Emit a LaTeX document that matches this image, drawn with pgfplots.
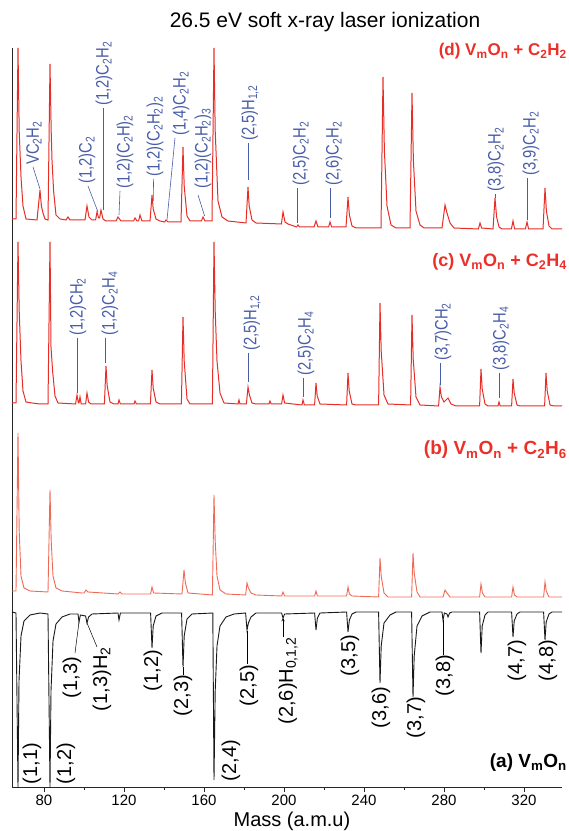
\documentclass[border=0pt]{standalone}
\usepackage{fontspec}
\setmainfont{Liberation Sans}
\usepackage{graphicx}
\usepackage{pgfplots}
\pgfplotsset{compat=1.18}
\definecolor{dred}{RGB}{232,45,38}
\definecolor{bred}{RGB}{240,105,85}
\definecolor{lblue}{RGB}{72,92,168}
\definecolor{lred}{RGB}{236,48,40}
\newcommand{\s}[1]{\textsubscript{#1}}
\newcommand{\dt}[1]{\scalebox{0.82}[1]{#1}}
\tikzset{
 dl/.style={rotate=90, anchor=west, inner sep=0pt, text=lblue, font=\fontsize{18bp}{21bp}\selectfont},
 al/.style={rotate=90, anchor=east, inner sep=0pt, text=black, font=\fontsize{20bp}{23bp}\selectfont},
 ld/.style={lblue, line width=0.6bp},
 lk/.style={black, line width=0.5bp},
}
\begin{document}
\begin{tikzpicture}
\begin{axis}[
 at={(0,0)}, anchor=south west,
 width=550bp, height=739bp, scale only axis,
 xmin=64, xmax=339, ymin=44, ymax=783,
 axis x line*=bottom, axis y line*=left,
 ytick=\empty,
 xtick={80,120,...,320}, minor x tick num=1,
 tick align=outside, major tick length=5bp, minor tick length=3bp,
 /pgf/number format/assume math mode=true,
 ticklabel style={font=\fontsize{15bp}{18bp}\selectfont},
 xlabel={Mass (a.m.u)},
 xlabel style={font=\fontsize{20bp}{24bp}\selectfont, at={(axis description cs:0.509,-0.0541)}, anchor=base},
 clip=false,
 axis line style={line width=0.8bp, black!85},
 every tick/.style={black!85, line width=0.6bp},
]
% (d) V_mO_n + C2H2
\addplot[dred, line width=1.0bp] coordinates {
(64,612) (66,612) (67,783) (67.6,700) (68.5,654) (69.5,625) (71,612) (76.5,611) (78,641) (78.7,625) (79.5,618) (80.5,612) (82,611) (83,767) (83.6,700) (84,671) (84.8,640) (86,616) (88,612) (91,611) (92,614) (93,611) (100.5,611) (101.5,625) (102.5,614) (104,611) (105.8,611) (106.5,619) (107.3,613) (107.8,613) (108.5,621) (109.5,612) (111,610) (116,610) (117,614) (118.5,610) (124.8,610) (125.5,613) (126.5,610) (127.3,610) (128,616) (129,610) (133,610) (134,636) (134.6,622) (136,612) (138,610) (140.3,609) (141,611) (142,609) (148.5,609) (149.5,684) (150.1,645) (151.5,615) (153,610) (158.7,610) (159.5,614) (160.5,610) (164,610) (165,783) (165.6,700) (167,630) (169,614) (172,610) (181,608) (182,644) (182.6,625) (184,611) (186,608) (198.7,607) (199.5,619) (200.5,609) (202,607) (206.3,604) (207,606) (207.8,604) (215,604) (216,610) (217,604) (222.3,604) (223,609) (223.8,604) (231,604) (232,634) (232.7,616) (234,605) (236,603) (248.5,603) (249.5,754) (250.2,680) (251.5,625) (253.5,606) (256,603) (263,603) (264,738) (264.7,670) (266,620) (268,606) (270,603) (279,603) (280.5,626) (281.5,618) (283,608) (285,603) (297.2,602) (298,608) (298.8,603) (304.5,602) (305.5,633) (306.3,614) (307.5,604) (309,602) (313.7,602) (314.5,610) (315.3,602) (320.7,602) (321.5,609) (322.3,602) (329.5,602) (330.5,643) (331.2,620) (332.5,605) (334,602) (339,602)
};
% (c) V_mO_n + C2H4
\addplot[dred, line width=1.0bp] coordinates {
(64,428) (66,428) (67,589) (67.6,520) (68.5,470) (69.5,440) (71,429) (74,428) (78,427) (82,427) (83,589) (83.5,484) (84.3,460) (85.5,435) (87,428) (95.8,427) (96.5,436) (97.2,428) (97.5,428) (98,434) (98.6,427) (100.8,427) (101.5,438) (102.3,429) (103.5,427) (110.2,427) (111,465) (111.6,445) (113,429) (115,427) (117,427) (117.5,431) (118.2,427) (125,427) (125.5,430) (126.2,427) (133.2,427) (134,461) (134.6,443) (136,429) (138,427) (148.7,427) (149.5,514) (150.1,470) (151.5,432) (153,427) (164.2,427) (165,589) (165.6,520) (166.5,470) (168,438) (170,428) (177,427) (177.5,431) (178,427) (181.2,427) (182,444) (182.7,436) (184,428) (186,427) (192.5,427) (193,430) (193.6,427) (198.8,427) (199.5,436) (200.3,428) (209,426) (209.5,431) (210.2,426) (215.3,426) (216,448) (216.6,435) (218,427) (231.3,426) (232,458) (232.6,440) (234,427) (236,426) (247.3,426) (248,528) (248.6,480) (250,436) (252,427) (263.3,426) (264,516) (264.6,472) (266,434) (268,426) (277.3,425) (278,444) (278.7,434) (280,429) (282,433) (283.5,427) (286,425) (297.8,425) (298.5,462) (299.1,442) (300.5,427) (302,425) (307,425) (307.5,429) (308.1,425) (313.8,425) (314.5,452) (315.1,438) (316.5,426) (318,425) (330.3,425) (331,458) (331.6,440) (333,426) (335,425) (339,425)
};
% (b) V_mO_n + C2H6
\addplot[bred, line width=0.9bp] coordinates {
(64,240) (66,240) (67,398) (67.6,300) (68.5,255) (70,243) (73,240) (82,239) (83,341) (83.6,290) (84.5,255) (86,243) (89,240) (99,238) (100,238) (101,241) (102,239) (117,237) (118,239) (119,237) (133.3,237) (134,244) (134.8,238) (149,237) (150,261) (150.7,248) (152,238) (164.2,236) (165,336) (165.6,290) (166.5,255) (168,241) (171,237) (180.8,236) (181.5,248) (182.2,243) (183.5,238) (186,236) (198.8,235) (199.5,239) (200.3,235) (215.3,235) (216,240) (216.7,235) (231.3,235) (232,244) (232.7,237) (234,235) (247.3,234) (248,273) (248.6,255) (250,238) (252,234) (263.8,234) (264.5,278) (265.1,258) (266.5,239) (268,234) (279.5,234) (280.5,241) (281.5,238) (283,234) (297.8,234) (298.5,247) (299.2,238) (300.5,234) (313.8,234) (314.5,244) (315.2,236) (316.5,234) (329.8,234) (330.5,249) (331.1,240) (332.5,234) (339,234)
};
% (a) V_mO_n (inverted)
\addplot[black!90, line width=0.9bp] coordinates {
(64,219) (66,218) (67,44) (67.5,150) (68.5,195) (70,210) (73,216) (78,218) (82,217) (83,44) (83.5,140) (84.5,190) (86,207) (89,214) (93,217) (97,217) (97.5,209) (98.2,216) (100.8,215) (101.5,208) (102.3,214) (104,217) (117,218) (117.5,211) (118.2,218) (133.3,218) (134,183) (134.6,205) (136,215) (139,218) (148.8,218) (149.5,164) (150.1,195) (151.5,212) (154,217) (164.4,218) (165,51) (165.6,140) (166.5,185) (168,205) (171,214) (175,217) (180.8,218) (181.5,201) (182.2,208) (183.5,214) (186,218) (198.8,218) (199.5,213) (200.3,217) (215.3,218) (216,201) (216.7,213) (218,218) (231.3,219) (232,199) (232.7,211) (234,217) (236,219) (247.3,219) (248,148) (248.6,185) (250,208) (253,216) (256,219) (263.8,219) (264.5,134) (265.1,175) (266.5,205) (269,215) (273,219) (279,219) (279.5,211) (280.2,218) (281.5,217) (282,214) (282.8,218) (284,219) (297.8,219) (298.5,178) (299.1,205) (300.5,216) (302,219) (313.8,219) (314.5,194) (315.1,210) (316.5,217) (318,219) (329.8,219) (330.5,191) (331.1,209) (332.5,217) (334,219) (339,219)
};
% title and panel labels
\node[anchor=base, font=\fontsize{21bp}{25bp}\selectfont] at (axis cs:220.5,803) {26.5 eV soft x-ray laser ionization};
\node[anchor=base east, inner sep=0pt, text=lred, font=\bfseries\fontsize{17bp}{20bp}\selectfont] at (axis cs:341.5,775) {(d) V\s{m}O\s{n} + C\s{2}H\s{2}};
\node[anchor=base east, inner sep=0pt, text=lred, font=\bfseries\fontsize{18bp}{21bp}\selectfont] at (axis cs:341.5,564) {(c) V\s{m}O\s{n} + C\s{2}H\s{4}};
\node[anchor=base east, inner sep=0pt, text=lred, font=\bfseries\fontsize{19bp}{22bp}\selectfont] at (axis cs:341.5,376) {(b) V\s{m}O\s{n} + C\s{2}H\s{6}};
\node[anchor=base east, inner sep=0pt, text=black, font=\bfseries\fontsize{19bp}{22bp}\selectfont] at (axis cs:341.5,64) {(a) V\s{m}O\s{n}};
% (d) assignments
\node[dl] at (axis cs:75,666) {\dt{VC\s{2}H\s{2}}};
\draw[ld] (axis cs:74.5,664) -- (axis cs:78,642);
\node[dl] at (axis cs:101.5,647) {\dt{(1,2)C\s{2}}};
\draw[ld] (axis cs:102,645) -- (axis cs:107,619);
\node[dl] at (axis cs:110,725) {\dt{(1,2)C\s{2}H\s{2}}};
\draw[ld] (axis cs:109.5,723) -- (axis cs:109.5,621);
\node[dl] at (axis cs:120.5,642) {\dt{(1,2)(C\s{2}H)\s{2}}};
\draw[ld] (axis cs:118,640) -- (axis cs:117.5,616);
\node[dl] at (axis cs:135.5,654) {\dt{(1,2)(C\s{2}H\s{2})\s{2}}};
\draw[ld] (axis cs:134.8,652) -- (axis cs:134.6,630);
\node[dl] at (axis cs:148.5,695) {\dt{(1,4)C\s{2}H\s{2}}};
\draw[ld] (axis cs:145.5,693) -- (axis cs:141.5,611);
\node[dl] at (axis cs:159.5,642) {\dt{(1,2)(C\s{2}H\s{2})\s{3}}};
\draw[ld] (axis cs:157,636) -- (axis cs:160.3,615);
\node[dl] at (axis cs:183,690) {\dt{(2,5)H\s{1,2}}};
\draw[ld] (axis cs:182,688) -- (axis cs:182,651);
\node[dl] at (axis cs:208.5,645) {\dt{(2,5)C\s{2}H\s{2}}};
\draw[ld] (axis cs:206.8,643) -- (axis cs:206.8,608);
\node[dl] at (axis cs:225,645) {\dt{(2,6)C\s{2}H\s{2}}};
\draw[ld] (axis cs:223,643) -- (axis cs:223,613);
\node[dl] at (axis cs:306,639) {\dt{(3,8)C\s{2}H\s{2}}};
\draw[ld] (axis cs:305.5,637) -- (axis cs:305.5,633);
\node[dl] at (axis cs:323.5,655) {\dt{(3,9)C\s{2}H\s{2}}};
\draw[ld] (axis cs:321.5,653) -- (axis cs:321.5,611);
% (c) assignments
\node[dl] at (axis cs:97,495) {\dt{(1,2)CH\s{2}}};
\draw[ld] (axis cs:96.5,493) -- (axis cs:96.5,438);
\node[dl] at (axis cs:113,495) {\dt{(1,2)C\s{2}H\s{4}}};
\draw[ld] (axis cs:110.8,493) -- (axis cs:110.8,468);
\node[dl] at (axis cs:184,480) {\dt{(2,5)H\s{1,2}}};
\draw[ld] (axis cs:182,478) -- (axis cs:182,449);
\node[dl] at (axis cs:211,455) {\dt{(2,5)C\s{2}H\s{4}}};
\draw[ld] (axis cs:209.5,453) -- (axis cs:209.5,434);
\node[dl] at (axis cs:279.5,470) {\dt{(3,7)CH\s{2}}};
\draw[ld] (axis cs:278,468) -- (axis cs:278,446);
\node[dl] at (axis cs:308.5,460) {\dt{(3,8)C\s{2}H\s{4}}};
\draw[ld] (axis cs:307.5,458) -- (axis cs:307.5,433);
% (a) assignments
\node[al] at (axis cs:74,88) {(1,1)};
\node[al] at (axis cs:91,88) {(1,2)};
\node[al] at (axis cs:94,174) {(1,3)};
\draw[lk] (axis cs:95.5,178) -- (axis cs:97.5,209);
\node[al] at (axis cs:109,184) {(1,3)H\s{2}};
\draw[lk] (axis cs:106.5,184) -- (axis cs:101.5,208);
\node[al] at (axis cs:134.5,181) {(1,2)};
\node[al] at (axis cs:149.5,156) {(2,3)};
\draw[lk] (axis cs:149.5,164) -- (axis cs:149.5,156);
\node[al] at (axis cs:173.5,91) {(2,4)};
\node[al] at (axis cs:182.5,166) {(2,5)};
\draw[lk] (axis cs:181.5,167) -- (axis cs:181.5,200);
\node[al] at (axis cs:202,194) {(2,6)H\s{0,1,2}};
\draw[lk, -stealth] (axis cs:199.5,194) -- (axis cs:199.5,213);
\node[al] at (axis cs:233,196) {(3,5)};
\node[al] at (axis cs:248.5,144) {(3,6)};
\node[al] at (axis cs:266,134) {(3,7)};
\node[al] at (axis cs:280.5,176) {(3,8)};
\draw[lk] (axis cs:279.5,176) -- (axis cs:279.5,211);
\node[al] at (axis cs:316.5,191) {(4,7)};
\node[al] at (axis cs:332,191) {(4,8)};
\end{axis}
\pgfresetboundingbox
\useasboundingbox (-12bp,-44bp) rectangle (557bp,787bp);
\end{tikzpicture}
\end{document}
